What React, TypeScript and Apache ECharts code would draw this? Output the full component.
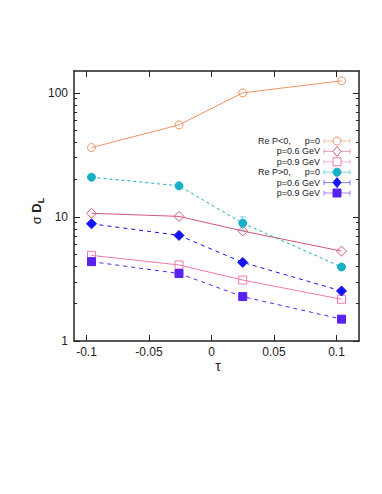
import React, { useEffect, useRef } from "react";
import * as echarts from "echarts";

const tau = [-0.096, -0.026, 0.025, 0.104];
const reNegP0 = [36.2, 55.2, 100, 125];
const reNegP06 = [10.7, 10.1, 7.7, 5.3];
const reNegP09 = [4.9, 4.1, 3.1, 2.17];
const rePosP0 = [20.9, 17.8, 8.9, 3.95];
const rePosP0Err = [0, 0.5, 1.1, 0];
const rePosP06 = [8.8, 7.1, 4.3, 2.53];
const rePosP09 = [4.36, 3.5, 2.28, 1.5];

const xTicks = [-0.1, -0.05, 0, 0.05, 0.1];
const xTickLabels = ["-0.1", "-0.05", "0", "0.05", "0.1"];
const yMajor = [1, 10, 100];
const yMinor = [2, 3, 4, 5, 6, 7, 8, 9, 20, 30, 40, 50, 60, 70, 80, 90];

const legendLeft = ["Re P<0,", "", "", "Re P>0,", "", ""];
const legendRight = ["p=0", "p=0.6 GeV", "p=0.9 GeV", "p=0", "p=0.6 GeV", "p=0.9 GeV"];

const FONT = "Liberation Sans, Arial, sans-serif";
const AX = "#222";

type S = {
  name: string;
  data: number[];
  color: string;
  symbol: string;
  size: number;
  filled: boolean;
  dash: any;
};

const seriesDefs: S[] = [
  { name: "Re P<0, p=0", data: reNegP0, color: "#EE9464", symbol: "circle", size: 8, filled: false, dash: "solid" },
  { name: "Re P<0, p=0.6 GeV", data: reNegP06, color: "#D2587A", symbol: "diamond", size: 10, filled: false, dash: "solid" },
  { name: "Re P<0, p=0.9 GeV", data: reNegP09, color: "#F07AAE", symbol: "rect", size: 8, filled: false, dash: "solid" },
  { name: "Re P>0, p=0", data: rePosP0, color: "#1BAFC6", symbol: "circle", size: 8, filled: true, dash: [3, 3] },
  { name: "Re P>0, p=0.6 GeV", data: rePosP06, color: "#1414F0", symbol: "diamond", size: 10, filled: true, dash: [4, 4] },
  { name: "Re P>0, p=0.9 GeV", data: rePosP09, color: "#5A22EE", symbol: "rect", size: 8, filled: true, dash: [4, 4] },
];

export default function App() {
  const ref = useRef<HTMLDivElement>(null);
  useEffect(() => {
    if (!ref.current) return;
    const chart = echarts.init(ref.current, null, { renderer: "svg" });

    const lineSeries = seriesDefs.map((d) => ({
      name: d.name,
      type: "line",
      xAxisIndex: 0,
      yAxisIndex: 0,
      data: tau.map((t, i) => [t, d.data[i]]),
      symbol: d.symbol,
      symbolSize: d.size,
      showSymbol: true,
      lineStyle: { color: d.color, width: 1, type: d.dash },
      itemStyle: d.filled
        ? { color: d.color, borderColor: d.color, borderWidth: 1 }
        : { color: "rgba(255,255,255,0)", borderColor: d.color, borderWidth: 1 },
      emphasis: { disabled: true },
      z: 3,
    }));

    const errSeries = {
      type: "custom",
      xAxisIndex: 0,
      yAxisIndex: 0,
      data: tau.map((t, i) => [t, rePosP0[i], rePosP0Err[i]]),
      encode: { x: 0, y: 1 },
      renderItem: (params: any, api: any) => {
        const x = api.value(0);
        const y = api.value(1);
        const e = api.value(2);
        if (!e) return { type: "group", children: [] };
        const top = api.coord([x, y + e]);
        const bot = api.coord([x, y - e]);
        const st = { stroke: "#1BAFC6", lineWidth: 1, opacity: 0.6 };
        return {
          type: "group",
          children: [
            { type: "line", shape: { x1: top[0], y1: top[1], x2: bot[0], y2: bot[1] }, style: st },
            { type: "line", shape: { x1: top[0] - 3, y1: top[1], x2: top[0] + 3, y2: top[1] }, style: st },
            { type: "line", shape: { x1: bot[0] - 3, y1: bot[1], x2: bot[0] + 3, y2: bot[1] }, style: st },
          ],
        };
      },
      z: 2,
    };

    const legendGraphics: any[] = [];
    seriesDefs.forEach((d, i) => {
      const y = 141 + i * 10.4;
      const lst = { stroke: d.color, lineWidth: 1, opacity: 0.55 };
      legendGraphics.push({ type: "line", shape: { x1: 324, y1: y, x2: 350, y2: y }, style: lst });
      legendGraphics.push({ type: "line", shape: { x1: 324, y1: y - 2.5, x2: 324, y2: y + 2.5 }, style: lst });
      legendGraphics.push({ type: "line", shape: { x1: 350, y1: y - 2.5, x2: 350, y2: y + 2.5 }, style: lst });
      const fill = d.filled ? d.color : "#fff";
      const mst = { fill, stroke: d.color, lineWidth: 1 };
      const cx = 337;
      if (d.symbol === "circle") {
        legendGraphics.push({ type: "circle", shape: { cx, cy: y, r: 4 }, style: mst });
      } else if (d.symbol === "diamond") {
        legendGraphics.push({
          type: "polygon",
          shape: { points: [[cx, y - 5], [cx + 4, y], [cx, y + 5], [cx - 4, y]] },
          style: mst,
        });
      } else {
        legendGraphics.push({ type: "rect", shape: { x: cx - 4, y: y - 4, width: 8, height: 8 }, style: mst });
      }
      legendGraphics.push({
        type: "text",
        x: 320,
        y,
        style: { text: legendRight[i], fill: AX, font: `9px ${FONT}`, align: "right", verticalAlign: "middle" },
      });
      if (legendLeft[i]) {
        legendGraphics.push({
          type: "text",
          x: 258,
          y,
          style: { text: legendLeft[i], fill: AX, font: `9px ${FONT}`, align: "left", verticalAlign: "middle" },
        });
      }
    });

    const axisLine = { show: true, onZero: false, lineStyle: { color: AX, width: 1.5 } };
    const tickStyle = { color: AX, width: 1 };

    const yBase = (pos: string, major: boolean, showLine: boolean) => ({
      type: "log",
      logBase: 10,
      min: 1,
      max: 150,
      position: pos,
      axisLine: showLine ? axisLine : { show: false, onZero: false },
      axisTick: {
        show: true,
        inside: true,
        length: major ? 6 : 3,
        customValues: major ? yMajor : yMinor,
        lineStyle: tickStyle,
      },
      axisLabel:
        major && pos === "left"
          ? {
              show: true,
              customValues: yMajor,
              fontSize: 12,
              color: AX,
              fontFamily: FONT,
              margin: 6,
              formatter: (v: number) => String(v),
            }
          : { show: false },
      splitLine: { show: false },
      minorTick: { show: false },
    });

    const xBase = (pos: string) => ({
      type: "value",
      min: -0.11,
      max: 0.118,
      position: pos,
      axisLine,
      axisTick: { show: true, inside: true, length: 6, customValues: xTicks, lineStyle: tickStyle },
      axisLabel:
        pos === "bottom"
          ? {
              show: true,
              customValues: xTicks,
              fontSize: 12,
              color: AX,
              fontFamily: FONT,
              margin: 5,
              formatter: (v: number) => {
                const idx = xTicks.findIndex((t) => Math.abs(t - v) < 1e-9);
                return idx >= 0 ? xTickLabels[idx] : "";
              },
            }
          : { show: false },
      splitLine: { show: false },
    });

    chart.setOption({
      animation: false,
      backgroundColor: "#fff",
      grid: { left: 74, top: 71, right: 23, bottom: 153, containLabel: false },
      xAxis: [xBase("bottom"), xBase("top")],
      yAxis: [yBase("left", true, true), yBase("left", false, false), yBase("right", true, true), yBase("right", false, false)],
      series: [...lineSeries, errSeries],
      graphic: [
        ...legendGraphics,
        {
          type: "text",
          x: 218,
          y: 366,
          style: { text: "τ", fill: AX, font: `14px ${FONT}`, align: "center", verticalAlign: "middle" },
        },
        {
          type: "text",
          x: 36,
          y: 211,
          rotation: Math.PI / 2,
          style: {
            text: "{s|σ }{d|D}{l|L}",
            align: "center",
            verticalAlign: "middle",
            fill: AX,
            rich: {
              s: { fontSize: 13, fontFamily: FONT, lineHeight: 18, fill: AX },
              d: { fontSize: 13, fontFamily: FONT, fontWeight: "bold", lineHeight: 18, fill: AX },
              l: { fontSize: 9, fontFamily: FONT, fontWeight: "bold", lineHeight: 9, verticalAlign: "bottom", fill: AX },
            },
          },
        },
      ],
    });
    return () => chart.dispose();
  }, []);
  return (
    <div
      ref={ref}
      style={{ position: "fixed", left: 0, top: 0, width: 382, height: 494, background: "#fff" }}
    />
  );
}
